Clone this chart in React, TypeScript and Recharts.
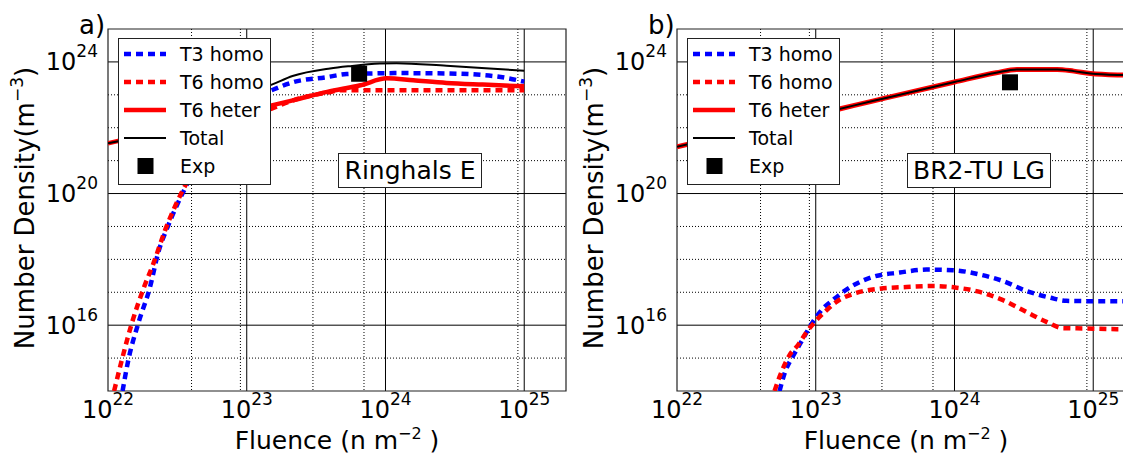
import React from "react";
import {
  CartesianGrid,
  ComposedChart,
  Line,
  ReferenceArea,
  Scatter,
  XAxis,
  YAxis,
} from "recharts";

// all values are log10 of the plotted quantity

// panel a) Ringhals E
const aT3X = [22.105, 22.146, 22.218, 22.303, 22.363, 22.435, 22.555, 22.7, 22.85, 23.0, 23.18, 23.34, 23.58, 23.72, 23.89, 24.1, 24.44, 24.78, 25.0];
const aT3Y = [14.0, 14.93, 16.05, 17.16, 18.22, 19.04, 20.16, 21.3, 22.25, 22.8, 23.14, 23.39, 23.54, 23.63, 23.65, 23.66, 23.65, 23.57, 23.4];
const aT6X = [22.044, 22.099, 22.171, 22.26, 22.327, 22.411, 22.539, 22.7, 22.85, 23.0, 23.18, 23.34, 23.58, 23.69, 23.82, 24.2, 24.6, 25.0];
const aT6Y = [14.0, 14.93, 16.05, 17.16, 17.87, 18.88, 20.1, 21.2, 21.9, 22.3, 22.58, 22.84, 23.07, 23.14, 23.14, 23.14, 23.14, 23.14];
const aHetX = [22.0, 22.5, 23.0, 23.18, 23.34, 23.58, 23.82, 24.01, 24.2, 24.44, 24.7, 25.0];
const aHetY = [21.53, 22.02, 22.51, 22.68, 22.84, 23.09, 23.29, 23.5, 23.44, 23.36, 23.31, 23.26];
const aTotX = [22.0, 22.5, 22.7, 22.85, 23.0, 23.18, 23.33, 23.6, 23.74, 23.96, 24.08, 24.44, 24.75, 25.0];
const aTotY = [21.53, 22.03, 22.35, 22.75, 23.05, 23.31, 23.57, 23.8, 23.87, 23.95, 23.96, 23.88, 23.8, 23.73];
const aExp = { x: 23.81, y: 23.64 };

// panel b) BR2-TU LG
const bT3X = [22.739, 22.775, 22.847, 22.895, 22.979, 23.051, 23.123, 23.197, 23.293, 23.413, 23.606, 23.798, 23.99, 24.182, 24.35, 24.519, 24.687, 24.807, 24.999, 25.168, 25.3];
const bT3Y = [14.0, 14.53, 15.14, 15.49, 16.1, 16.5, 16.76, 17.01, 17.26, 17.47, 17.6, 17.69, 17.67, 17.54, 17.34, 17.04, 16.84, 16.74, 16.73, 16.73, 16.73];
const bT6X = [22.703, 22.739, 22.811, 22.871, 22.944, 23.005, 23.077, 23.149, 23.293, 23.461, 23.654, 23.846, 24.014, 24.182, 24.35, 24.519, 24.663, 24.783, 24.952, 25.168, 25.3];
const bT6Y = [14.0, 14.43, 15.09, 15.39, 15.85, 16.15, 16.45, 16.71, 16.98, 17.11, 17.16, 17.19, 17.14, 17.01, 16.76, 16.4, 16.1, 15.91, 15.9, 15.88, 15.88];
const bTotX = [22.0, 23.17, 23.41, 24.0, 24.3, 24.45, 24.74, 24.86, 24.98, 25.21, 25.3];
const bTotY = [21.42, 22.57, 22.81, 23.39, 23.67, 23.77, 23.77, 23.72, 23.65, 23.6, 23.59];
const bExp = { x: 24.4, y: 23.38 };

const xTicks = [1e22, 1e23, 1e24, 1e25];
const yTicks = [1e16, 1e20, 1e24];
const xMajor = [1e23, 1e24, 1e25];
const yMinor = [1e15, 1e17, 1e18, 1e19, 1e21, 1e22, 1e23];
const xMinor = [22, 23, 24, 25]
  .flatMap((d) => [2, 3, 4, 5, 6, 7, 8, 9].map((m) => m * 10 ** d))
  .filter((v) => v < 2e25);

const legendItems = ["T3 homo", "T6 homo", "T6 heter", "Total", "Exp"];

const toPts = (xs: number[], ys: number[]) =>
  xs.map((x, i) => ({ x: 10 ** x, y: 10 ** ys[i] }));

const FONT = "DejaVu Sans";
const DASH = "7 5";

const XTick = (props: any) => {
  const { x, y, payload } = props;
  const exp = Math.round(Math.log10(payload.value));
  return (
    <text x={x} y={y + 27} textAnchor="middle" fontSize={24} fill="#000" fontFamily={FONT}>
      10<tspan dy={-13} fontSize={17}>{exp}</tspan>
    </text>
  );
};

const YTick = (props: any) => {
  const { x, y, payload } = props;
  const exp = Math.round(Math.log10(payload.value));
  return (
    <text x={x - 10} y={y + 8.5} textAnchor="end" fontSize={24} fill="#000" fontFamily={FONT}>
      10<tspan dy={-13} fontSize={17}>{exp}</tspan>
    </text>
  );
};

const Square = (props: any) => (
  <rect x={props.cx - 8} y={props.cy - 8} width={16} height={16} fill="#000" />
);

function Legend() {
  const rows = [16, 44, 72, 100, 128];
  return (
    <svg
      width={153}
      height={147}
      style={{ position: "absolute", left: 118, top: 38, background: "#fff" }}
    >
      <rect x={0.5} y={0.5} width={152} height={146} fill="#fff" stroke="#222" />
      <line x1={6} x2={48} y1={rows[0]} y2={rows[0]} stroke="#0000ff" strokeWidth={4.5} strokeDasharray={DASH} />
      <line x1={6} x2={48} y1={rows[1]} y2={rows[1]} stroke="#ff0000" strokeWidth={4.5} strokeDasharray={DASH} />
      <line x1={6} x2={48} y1={rows[2]} y2={rows[2]} stroke="#ff0000" strokeWidth={4.5} />
      <line x1={6} x2={48} y1={rows[3]} y2={rows[3]} stroke="#000" strokeWidth={2} />
      <rect x={19.5} y={rows[4] - 8} width={16} height={16} fill="#000" />
      {legendItems.map((t, i) => (
        <text key={t} x={62} y={rows[i] + 7} fontSize={19} fontFamily={FONT} fill="#000">
          {t}
        </text>
      ))}
    </svg>
  );
}

function Panel({
  left,
  label,
  name,
  t3,
  t6,
  het,
  tot,
  exp,
  hetWidth,
}: {
  left: number;
  label: string;
  name: string;
  t3: { x: number; y: number }[];
  t6: { x: number; y: number }[];
  het: { x: number; y: number }[];
  tot: { x: number; y: number }[];
  exp: { x: number; y: number }[];
  hetWidth: number;
}) {
  return (
    <div style={{ position: "absolute", left, top: 0, width: 600, height: 455 }}>
      <ComposedChart
        width={600}
        height={455}
        margin={{ top: 29, right: 34, bottom: 0, left: 0 }}
      >
        <CartesianGrid
          horizontalValues={yMinor}
          verticalValues={xMinor}
          stroke="#000"
          strokeDasharray="1 2"
          strokeWidth={1}
        />
        <CartesianGrid
          horizontalValues={yTicks}
          verticalValues={xMajor}
          stroke="#000"
          strokeWidth={1}
        />
        <XAxis
          dataKey="x"
          type="number"
          scale="log"
          domain={[1e22, 2e25]}
          allowDataOverflow
          ticks={xTicks}
          tick={<XTick />}
          tickLine={false}
          tickSize={0}
          tickMargin={0}
          axisLine={false}
          height={64}
        />
        <YAxis
          dataKey="y"
          type="number"
          scale="log"
          domain={[1e14, 1e25]}
          allowDataOverflow
          ticks={yTicks}
          tick={<YTick />}
          tickLine={false}
          tickSize={0}
          tickMargin={0}
          axisLine={false}
          width={108}
        />
        <Line data={t3} dataKey="y" type="monotone" stroke="#0000ff" strokeWidth={4.5} strokeDasharray={DASH} dot={false} isAnimationActive={false} />
        <Line data={t6} dataKey="y" type="monotone" stroke="#ff0000" strokeWidth={4.5} strokeDasharray={DASH} dot={false} isAnimationActive={false} />
        <Line data={het} dataKey="y" type="monotone" stroke="#ff0000" strokeWidth={hetWidth} dot={false} isAnimationActive={false} />
        <Line data={tot} dataKey="y" type="monotone" stroke="#000" strokeWidth={2} dot={false} isAnimationActive={false} />
        <Scatter data={exp} dataKey="y" shape={<Square />} isAnimationActive={false} />
        <ReferenceArea x1={1e22} x2={2e25} y1={1e14} y2={1e25} fill="none" stroke="#222" strokeWidth={1.2} />
      </ComposedChart>
      <svg width={600} height={455} style={{ position: "absolute", left: 0, top: 0, pointerEvents: "none" }}>
        <text x={79} y={34} fontSize={26} fontFamily={FONT} fill="#000">{label}</text>
        <text
          x={34}
          y={208}
          transform="rotate(-90 34 208)"
          textAnchor="middle"
          fontSize={26}
          fontFamily={FONT}
          fill="#000"
        >
          Number Density(m<tspan dy={-11} fontSize={17}>−3</tspan><tspan dy={11}>)</tspan>
        </text>
        <text x={337} y={449} textAnchor="middle" fontSize={25} fontFamily={FONT} fill="#000">
          Fluence (n m<tspan dy={-10} fontSize={16}>−2</tspan><tspan dy={10}> )</tspan>
        </text>
      </svg>
      <Legend />
      <div
        style={{
          position: "absolute",
          left: 338,
          top: 153,
          width: 144,
          height: 35,
          boxSizing: "border-box",
          border: "1px solid #222",
          background: "#fff",
          display: "flex",
          alignItems: "center",
          justifyContent: "center",
          fontFamily: FONT,
          fontSize: 25,
          color: "#000",
        }}
      >
        {name}
      </div>
    </div>
  );
}

export default function App() {
  return (
    <div
      style={{
        position: "absolute",
        left: 0,
        top: 0,
        width: 1123,
        height: 455,
        overflow: "hidden",
        background: "#fff",
      }}
    >
      <Panel
        left={0}
        label="a)"
        name="Ringhals E"
        t3={toPts(aT3X, aT3Y)}
        t6={toPts(aT6X, aT6Y)}
        het={toPts(aHetX, aHetY)}
        tot={toPts(aTotX, aTotY)}
        exp={[{ x: 10 ** aExp.x, y: 10 ** aExp.y }]}
        hetWidth={4.5}
      />
      <Panel
        left={569}
        label="b)"
        name="BR2-TU LG"
        t3={toPts(bT3X, bT3Y)}
        t6={toPts(bT6X, bT6Y)}
        het={toPts(bTotX, bTotY)}
        tot={toPts(bTotX, bTotY)}
        exp={[{ x: 10 ** bExp.x, y: 10 ** bExp.y }]}
        hetWidth={5}
      />
    </div>
  );
}
